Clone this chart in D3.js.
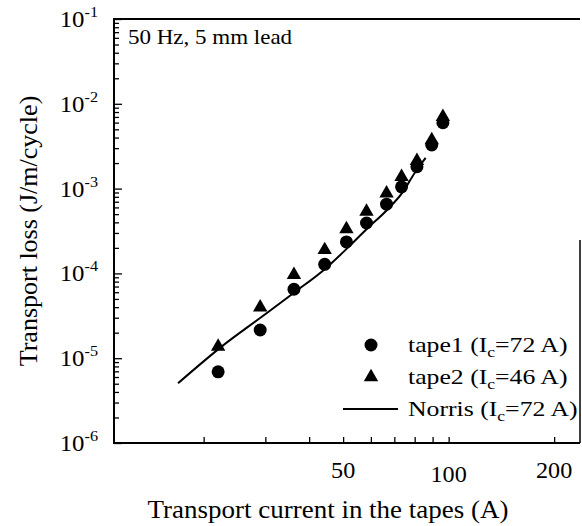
<!DOCTYPE html>
<html>
<head>
<meta charset="utf-8">
<script src="https://cdn.jsdelivr.net/npm/d3@7"></script>
<style>
  body { margin: 0; background: #fff; }
  text { font-family: "Liberation Serif", "Times New Roman", serif; fill: #000; }
</style>
</head>
<body>
<script>
// data
const tape1Current = [22.0, 29.0, 36.2, 44.3, 51.1, 58.3, 66.5, 73.4, 81.2, 89.5, 96.3];
const tape1Loss = [6.9e-6, 2.15e-5, 6.5e-5, 1.28e-4, 2.35e-4, 3.93e-4, 6.55e-4, 1.05e-3, 1.81e-3, 3.27e-3, 5.98e-3];
const tape2Current = [22.0, 29.0, 36.2, 44.3, 51.1, 58.3, 66.5, 73.4, 81.2, 89.5, 96.3];
const tape2Loss = [1.37e-5, 3.98e-5, 9.6e-5, 1.89e-4, 3.34e-4, 5.37e-4, 8.8e-4, 1.38e-3, 2.12e-3, 3.74e-3, 7.0e-3];
const norrisCurrent = [16.9, 22.5, 29.3, 36.2, 44.3, 51.5, 58.4, 66.7, 73.7, 80.0, 86.0];
const norrisLoss = [5.06e-6, 1.37e-5, 3.08e-5, 5.92e-5, 1.12e-4, 2.0e-4, 3.34e-4, 5.6e-4, 8.9e-4, 1.53e-3, 2.3e-3];

const xTickValues = [20, 30, 40, 50, 60, 70, 80, 90, 100, 200];
const xTickLabels = ["50", "100", "200"];
const yDecades = [-1, -2, -3, -4, -5, -6];

// chart constants
const W = 582, H = 526;
const plot = {left: 114, right: 580, top: 19, bottom: 443};

const svg = d3.select("body").append("svg")
    .attr("width", W)
    .attr("height", H);

const x = d3.scaleLog().domain([11.1, 237]).range([plot.left, plot.right]);
const y = d3.scaleLog().domain([1e-6, 1e-1]).range([plot.bottom, plot.top]);

// scanned text is a bit wider than the font, stretch it sideways
function wideText(parent, tx, ty, sx) {
    return parent.append("g")
        .attr("transform", "translate(" + tx + "," + ty + ") scale(" + sx + ",1)")
        .append("text");
}

// y ticks, inward
let yMinor = [];
yDecades.forEach(e => {
    if (e === -1) return;
    for (let k = 2; k <= 9; k++) yMinor.push(k * Math.pow(10, e));
});
svg.append("g")
    .attr("transform", "translate(" + plot.left + ",0)")
    .call(d3.axisRight(y).tickValues(yMinor).tickSize(5).tickFormat(""))
    .call(g => g.select(".domain").remove());
svg.append("g")
    .attr("transform", "translate(" + plot.left + ",0)")
    .call(d3.axisRight(y).tickValues(yDecades.map(e => Math.pow(10, e))).tickSize(8).tickFormat(""))
    .call(g => g.select(".domain").remove());

// y tick labels 10^-n
yDecades.forEach(e => {
    const t = wideText(svg, plot.left - 16, y(Math.pow(10, e)) + 8, 1.08)
        .attr("text-anchor", "end")
        .style("font-size", "23px");
    t.append("tspan").text("10");
    t.append("tspan").attr("dy", -10).style("font-size", "15px").text(e);
});

// x ticks, inward
svg.append("g")
    .attr("transform", "translate(0," + plot.bottom + ")")
    .call(d3.axisTop(x).tickValues(xTickValues).tickSize(6).tickFormat(""))
    .call(g => g.select(".domain").remove());

xTickLabels.forEach((d, i) => {
    wideText(svg, x(+d), plot.bottom + 35 + (i === 1 ? 4 : 0), 1.05)
        .attr("text-anchor", "middle")
        .style("font-size", "23px")
        .text(d);
});

// frame
svg.selectAll(".tick line").attr("stroke", "#000").attr("stroke-width", 1.3);
svg.append("path")
    .attr("d", "M" + plot.right + "," + plot.top + "H" + plot.left + "V" + plot.bottom + "H" + plot.right)
    .attr("fill", "none").attr("stroke", "#000").attr("stroke-width", 2);
svg.append("line")
    .attr("x1", plot.right).attr("x2", plot.right)
    .attr("y1", 240).attr("y2", plot.bottom)
    .attr("stroke", "#000").attr("stroke-width", 1.5);

// Norris line
const norris = norrisCurrent.map((c, i) => [c, norrisLoss[i]]);
svg.append("path")
    .datum(norris)
    .attr("d", d3.line().x(d => x(d[0])).y(d => y(d[1])).curve(d3.curveMonotoneX))
    .attr("fill", "none").attr("stroke", "#000").attr("stroke-width", 2);

// markers
const tri = d3.symbol().type(d3.symbolTriangle).size(90);
svg.append("g").selectAll("path")
    .data(tape2Current.map((c, i) => [c, tape2Loss[i]]))
    .join("path")
    .attr("d", tri)
    .attr("transform", d => "translate(" + x(d[0]) + "," + y(d[1]) + ")")
    .attr("fill", "#000");
svg.append("g").selectAll("circle")
    .data(tape1Current.map((c, i) => [c, tape1Loss[i]]))
    .join("circle")
    .attr("cx", d => x(d[0]))
    .attr("cy", d => y(d[1]))
    .attr("r", 6.5)
    .attr("fill", "#000");

// annotation
wideText(svg, 128, 44, 1.15)
    .style("font-size", "20px")
    .text("50 Hz, 5 mm lead");

// legend
const legendNames = ["tape1", "tape2", "Norris"];
const legendIc = ["72", "46", "72"];
const legend = svg.append("g");
legendNames.forEach((name, i) => {
    const cy = 345 + i * 32;
    if (i === 0) legend.append("circle").attr("cx", 371).attr("cy", cy).attr("r", 6.5).attr("fill", "#000");
    if (i === 1) legend.append("path").attr("d", tri).attr("transform", "translate(371," + cy + ")").attr("fill", "#000");
    if (i === 2) legend.append("line").attr("x1", 343).attr("x2", 398).attr("y1", cy).attr("y2", cy)
        .attr("stroke", "#000").attr("stroke-width", 2);
    const t = wideText(legend, 408, cy + 7, 1.17).style("font-size", "22px");
    t.append("tspan").text(name + " (I");
    t.append("tspan").attr("dy", 5).style("font-size", "15px").text("c");
    t.append("tspan").attr("dy", -5).text("=" + legendIc[i] + " A)");
});

// axis titles
wideText(svg, 328, 518, 1.08)
    .attr("text-anchor", "middle")
    .style("font-size", "25px")
    .text("Transport current in the tapes (A)");
svg.append("text")
    .attr("transform", "translate(37,231) rotate(-90)")
    .attr("text-anchor", "middle")
    .style("font-size", "26px")
    .text("Transport loss (J/m/cycle)");
</script>
</body>
</html>
